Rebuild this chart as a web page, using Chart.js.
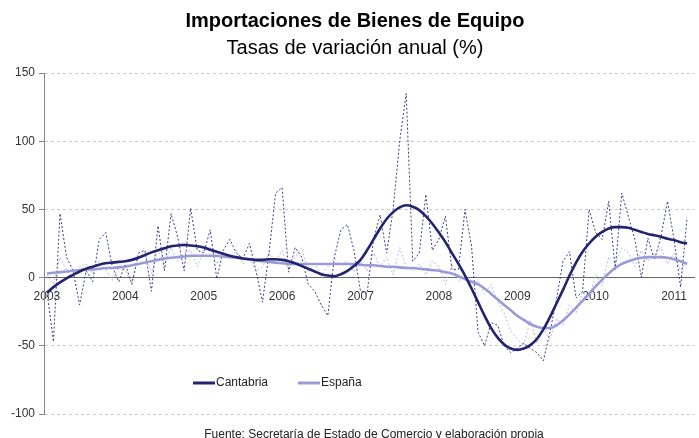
<!DOCTYPE html>
<html>
<head>
<meta charset="utf-8">
<script src="https://cdn.jsdelivr.net/npm/chart.js@4.4.1/dist/chart.umd.min.js"></script>
<style>
  html, body { margin: 0; padding: 0; background: #fff; }
  #wrap { width: 699px; height: 438px; }
</style>
</head>
<body>
<div id="wrap"><canvas id="chart" width="699" height="438"></canvas></div>
<script>
const titulo = 'Importaciones de Bienes de Equipo';
const subtitulo = 'Tasas de variación anual (%)';
const fuente = 'Fuente: Secretaría de Estado de Comercio y elaboración propia';

// months since Jan 2003; a label every January
const firstYear = 2003;
const yearTicks = [0, 12, 24, 36, 48, 60, 72, 84, 96];
const yTicks = [-100, -50, 0, 50, 100, 150];

// monthly rates, Jan 2003 .. Mar 2011
const cantabriaMensual = [
  -10, -47, 47, 15, 5, -20, 5, -3, 28, 33, 8, -3,
  10, -5, 18, 20, -10, 38, 5, 47, 30, 5, 51, 20,
  18, 35, -1, 20, 28, 18, 14, 25, 5, -18, 18, 62,
  66, 4, 22, 15, -5, -10, -20, -28, 15, 35, 39, 20,
  -10, -12, 28, 46, 18, 50, 100, 135, 12, 18, 61, 20,
  28, 45, 6, 6, 50, 23, -40, -50, -33, -35, -50, -55,
  -52, -48, -52, -55, -61, -40, -16, 12, 19, -15, -10, 50,
  33, 28, 56, 6, 62, 45, 28, 0, 29, 13, 30, 56,
  28, -7, 44
];
const espanaMensual = [
  2, -5, 15, 5, 0, 8, 10, 3, 12, 6, -2, 8,
  5, -4, 15, 18, 3, 20, 10, 22, 12, 18, 20, 8,
  20, 22, 10, 18, 15, 20, 10, 14, 5, 8, 18, 12,
  20, 6, 15, 22, 4, 10, 2, 8, 14, 10, 12, 4,
  12, 5, 18, 8, 15, 2, 22, 8, 5, 10, 2, 12,
  8, -5, 10, -2, 0, -8, -2, -12, -5, -18, -26, -39,
  -45, -50, -31, -48, -38, -45, -30, -35, -20, -26, -10, -15,
  2, -6, 15, 10, 22, 18, 8, 20, 12, 18, 22, 10,
  18, 5, 12
];
const cantabriaTendencia = [
  -11, -7, -3.5, -0.5, 2, 4.5, 6.5, 8, 9.5, 10.5, 11, 11.5,
  12, 13, 14.5, 16.5, 18.5, 20, 21.5, 23, 23.5, 24, 23.5, 23,
  22, 20.5, 19, 17.5, 16, 15, 14, 13.5, 13, 13, 13.5, 13.5,
  13, 12, 10.5, 8.5, 6.5, 4.5, 2.5, 1.5, 1, 2.5, 5, 8.5,
  13, 20, 28, 36, 43, 48, 51.5, 53, 52, 49.5, 45, 39.5,
  33, 26, 18, 10, 1.5, -8, -18, -28, -37, -44, -49, -52,
  -53, -52, -49.5, -45, -38, -29, -19, -9, 1.5, 11, 19, 25,
  30, 33.5, 36, 37, 37, 36.5, 35, 33.5, 32, 31, 30, 28.5,
  27.5, 26, 25
];
const espanaTendencia = [
  3, 3.5, 4, 4.5, 5, 5.5, 6, 6, 6.5, 7, 7, 7.5,
  8, 9, 10, 11, 12, 13, 14, 14.5, 15, 15.5, 16, 16,
  16, 16, 16, 15.5, 15, 14.5, 14, 13.5, 12.5, 12, 11.5, 11,
  10.5, 10, 10, 10, 10, 10, 10, 10, 10, 10, 10, 10,
  9.5, 9, 9, 8.5, 8, 8, 7.5, 7, 7, 6.5, 6, 5.5,
  5, 4, 3, 1, -1, -3, -5, -8, -12, -16, -20, -24,
  -28, -31, -34, -36, -37, -37, -35, -31.5, -27, -22, -17, -12,
  -6.5, -1.5, 3, 7, 10, 12, 13.5, 14.5, 15, 15, 15, 14.5,
  13.5, 12, 10
];

const navy = '#23236f';
const navyThin = '#3c3c8a';
const lilac = '#9a9ad6';
const lilacThin = '#b8b8e4';
const font = '"Liberation Sans", Arial, sans-serif';

const toPoints = (arr) => arr.map((v, i) => ({ x: i, y: v }));

const textos = {
  id: 'textos',
  afterDraw(chart) {
    const ctx = chart.ctx;
    ctx.save();
    ctx.textAlign = 'center';
    ctx.textBaseline = 'middle';
    ctx.fillStyle = '#000';
    ctx.font = 'bold 20px ' + font;
    ctx.fillText(titulo, 355, 21);
    ctx.font = '20px ' + font;
    ctx.fillText(subtitulo, 355, 48);
    ctx.font = '12px ' + font;
    ctx.fillStyle = '#222';
    ctx.fillText(fuente, 374, 435);

    // legend
    ctx.textAlign = 'left';
    ctx.font = '12px ' + font;
    ctx.lineWidth = 3;
    ctx.strokeStyle = navy;
    ctx.beginPath(); ctx.moveTo(193, 383); ctx.lineTo(215, 383); ctx.stroke();
    ctx.fillStyle = '#222';
    ctx.fillText('Cantabria', 216, 383);
    ctx.strokeStyle = lilac;
    ctx.beginPath(); ctx.moveTo(298, 383); ctx.lineTo(320, 383); ctx.stroke();
    ctx.fillText('España', 321, 383);
    ctx.restore();
  }
};

new Chart(document.getElementById('chart'), {
  type: 'line',
  data: {
    datasets: [
      {
        label: 'Cantabria',
        data: toPoints(cantabriaTendencia),
        borderColor: navy,
        borderWidth: 2.6,
        cubicInterpolationMode: 'monotone',
        pointRadius: 0,
        order: 1,
      },
      {
        label: 'España',
        data: toPoints(espanaTendencia),
        borderColor: lilac,
        borderWidth: 2.6,
        cubicInterpolationMode: 'monotone',
        pointRadius: 0,
        order: 2,
      },
      {
        label: 'Cantabria mensual',
        data: toPoints(cantabriaMensual),
        borderColor: navyThin,
        borderWidth: 1,
        borderDash: [2, 2],
        tension: 0,
        pointRadius: 0,
        order: 3,
      },
      {
        label: 'España mensual',
        data: toPoints(espanaMensual),
        borderColor: lilacThin,
        borderWidth: 1,
        borderDash: [2, 2],
        tension: 0,
        pointRadius: 0,
        order: 4,
      },
    ],
  },
  options: {
    responsive: false,
    animation: false,
    layout: { padding: { top: 73, bottom: 24, left: 0, right: 2 } },
    plugins: {
      legend: { display: false },
      title: { display: false },
      tooltip: { enabled: false },
    },
    scales: {
      x: {
        type: 'linear',
        position: { y: 0 },
        min: -0.45,
        max: 99.1,
        afterBuildTicks: (scale) => { scale.ticks = yearTicks.map((v) => ({ value: v })); },
        ticks: {
          callback: (v) => String(firstYear + v / 12),
          color: '#333',
          font: { family: font, size: 12 },
          padding: 12,
          maxRotation: 0,
          autoSkip: false,
        },
        grid: { display: false, drawTicks: false },
        border: { display: true, color: '#666', width: 1 },
      },
      y: {
        min: -100,
        max: 150,
        afterBuildTicks: (scale) => { scale.ticks = yTicks.map((v) => ({ value: v })); },
        afterFit: (scale) => { scale.width = 44; },
        ticks: {
          color: '#333',
          font: { family: font, size: 12 },
          padding: 4,
        },
        grid: {
          color: (c) => (c.tick && c.tick.value === 0 ? 'rgba(0,0,0,0)' : '#c8c8c8'),
          tickColor: '#888',
          tickLength: 5,
          tickBorderDash: [],
        },
        border: { display: true, color: '#888', width: 1, dash: [3, 3] },
      },
    },
  },
  plugins: [textos],
});
</script>
</body>
</html>
